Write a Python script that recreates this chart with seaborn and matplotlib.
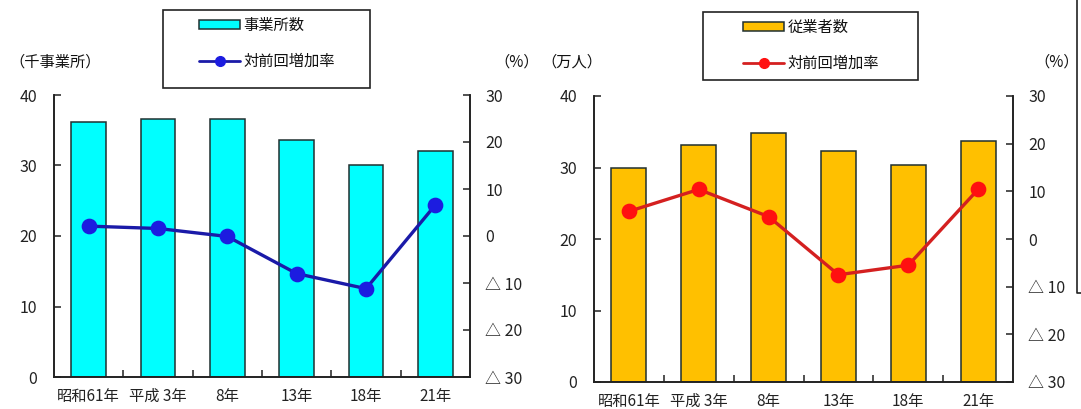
import matplotlib
matplotlib.use("Agg")
import matplotlib.pyplot as plt
import matplotlib.patches as mpatches
from matplotlib.lines import Line2D
import seaborn as sns

# --- data -------------------------------------------------------------
years = ["昭和61年", "平成 3年", "8年", "13年", "18年", "21年"]

offices = [36.1, 36.6, 36.6, 33.6, 30.1, 32.0]          # 千事業所
offices_rate = [2.1, 1.6, -0.1, -8.0, -11.2, 6.6]        # %

workers = [30.0, 33.1, 34.8, 32.3, 30.4, 33.7]           # 万人
workers_rate = [5.8, 10.4, 4.7, -7.5, -5.5, 10.4]        # %

left_ticks = [0, 10, 20, 30, 40]
rate_ticks = [-30, -20, -10, 0, 10, 20, 30]
rate_labels = ["△ 30", "△ 20", "△ 10", "0", "10", "20", "30"]

# --- style ------------------------------------------------------------
sns.set_style("ticks")
plt.rcParams["font.family"] = ["Noto Sans CJK JP", "DejaVu Sans"]
plt.rcParams["text.color"] = "#111111"
plt.rcParams["axes.edgecolor"] = "#222222"
plt.rcParams["xtick.color"] = "#222222"
plt.rcParams["ytick.color"] = "#222222"

W, H = 1081, 409
fig = plt.figure(figsize=(W / 100, H / 100), dpi=100)
fig.patch.set_facecolor("white")


def fx(px):
    return px / W


def fy(py):
    return 1 - py / H


def panel(rect, bars, rates, bar_color, line_color, marker_color):
    ax = fig.add_axes(rect)
    sns.barplot(x=years, y=bars, ax=ax, color=bar_color, saturation=1,
                edgecolor="#203030", linewidth=1.1, width=0.5)
    axr = ax.twinx()
    sns.pointplot(x=years, y=rates, ax=axr, color=line_color,
                  markers="o", errorbar=None, linewidth=2.4,
                  markersize=9.5, markerfacecolor=marker_color,
                  markeredgecolor=marker_color)
    ax.set_xlim(-0.5, 5.5)
    ax.set_ylim(0, 40)
    axr.set_ylim(-30, 30)

    ax.set_yticks(left_ticks)
    ax.set_yticklabels([str(t) for t in left_ticks])
    axr.set_yticks(rate_ticks)
    axr.set_yticklabels(rate_labels)

    ax.set_xticks(range(len(years)))
    ax.set_xticklabels(years)
    ax.set_xticks([i + 0.5 for i in range(len(years) - 1)], minor=True)
    ax.tick_params(axis="x", which="major", length=0, pad=8, labelsize=11)
    ax.tick_params(axis="x", which="minor", direction="in", length=5,
                   width=1.1, bottom=True)
    ax.tick_params(axis="y", direction="in", length=5, width=1.1, pad=12,
                   labelsize=11.5)
    axr.tick_params(axis="y", direction="in", length=5, width=1.1, pad=11,
                    labelsize=11.5)

    ax.set_xlabel("")
    ax.set_ylabel("")
    axr.set_ylabel("")
    for a in (ax, axr):
        a.spines["top"].set_visible(False)
        for s in a.spines.values():
            s.set_linewidth(1.2)
            s.set_color("#222222")
    return ax, axr


# left panel: establishments
panel([fx(54), 1 - 377 / H, fx(470 - 54), (377 - 95) / H],
      offices, offices_rate, "#00FFFF", "#1A1AA8", "#1C1CE0")
# right panel: employees
panel([fx(594), 1 - 382 / H, fx(1013 - 594), (382 - 96) / H],
      workers, workers_rate, "#FFC000", "#D42020", "#FF1010")

# unit labels
fig.text(fx(9), fy(62), "（千事業所）", fontsize=11, va="center", ha="left")
fig.text(fx(494), fy(62), "（%）", fontsize=11, va="center", ha="left")
fig.text(fx(541), fy(62), "（万人）", fontsize=11, va="center", ha="left")
fig.text(fx(1034), fy(62), "（%）", fontsize=11, va="center", ha="left")


def legend_box(x0, y0, x1, y1, hx, htop, bar_color, line_color, marker_color,
               bar_label):
    fig.add_artist(mpatches.Rectangle((fx(x0), fy(y1)), fx(x1 - x0),
                                      (y1 - y0) / H, transform=fig.transFigure,
                                      fill=False, edgecolor="#222222", lw=1.2))
    handles = [
        mpatches.Patch(facecolor=bar_color, edgecolor="#203030", linewidth=1.1),
        Line2D([], [], color=line_color, lw=2, marker="o", markersize=7,
               markerfacecolor=marker_color, markeredgecolor=marker_color),
    ]
    fig.legend(handles, [bar_label, "対前回増加率"], loc="upper left",
               bbox_to_anchor=(fx(hx), fy(htop)), frameon=False,
               handlelength=2.7, handleheight=0.6, handletextpad=0.2,
               labelspacing=1.25, borderpad=0, borderaxespad=0, fontsize=11)


legend_box(163, 10, 370, 88, 199, 17, "#00FFFF", "#1A1AA8", "#1C1CE0",
           "事業所数")
legend_box(703, 12, 918, 80, 743, 19, "#FFC000", "#D42020", "#FF1010",
           "従業者数")

# partial frame along the right edge
fig.add_artist(Line2D([fx(1077), fx(1077), fx(1081)], [fy(0), fy(293), fy(293)],
                      transform=fig.transFigure, color="#222222", lw=1.2))

fig.savefig("out.png", dpi=100, facecolor="white")
